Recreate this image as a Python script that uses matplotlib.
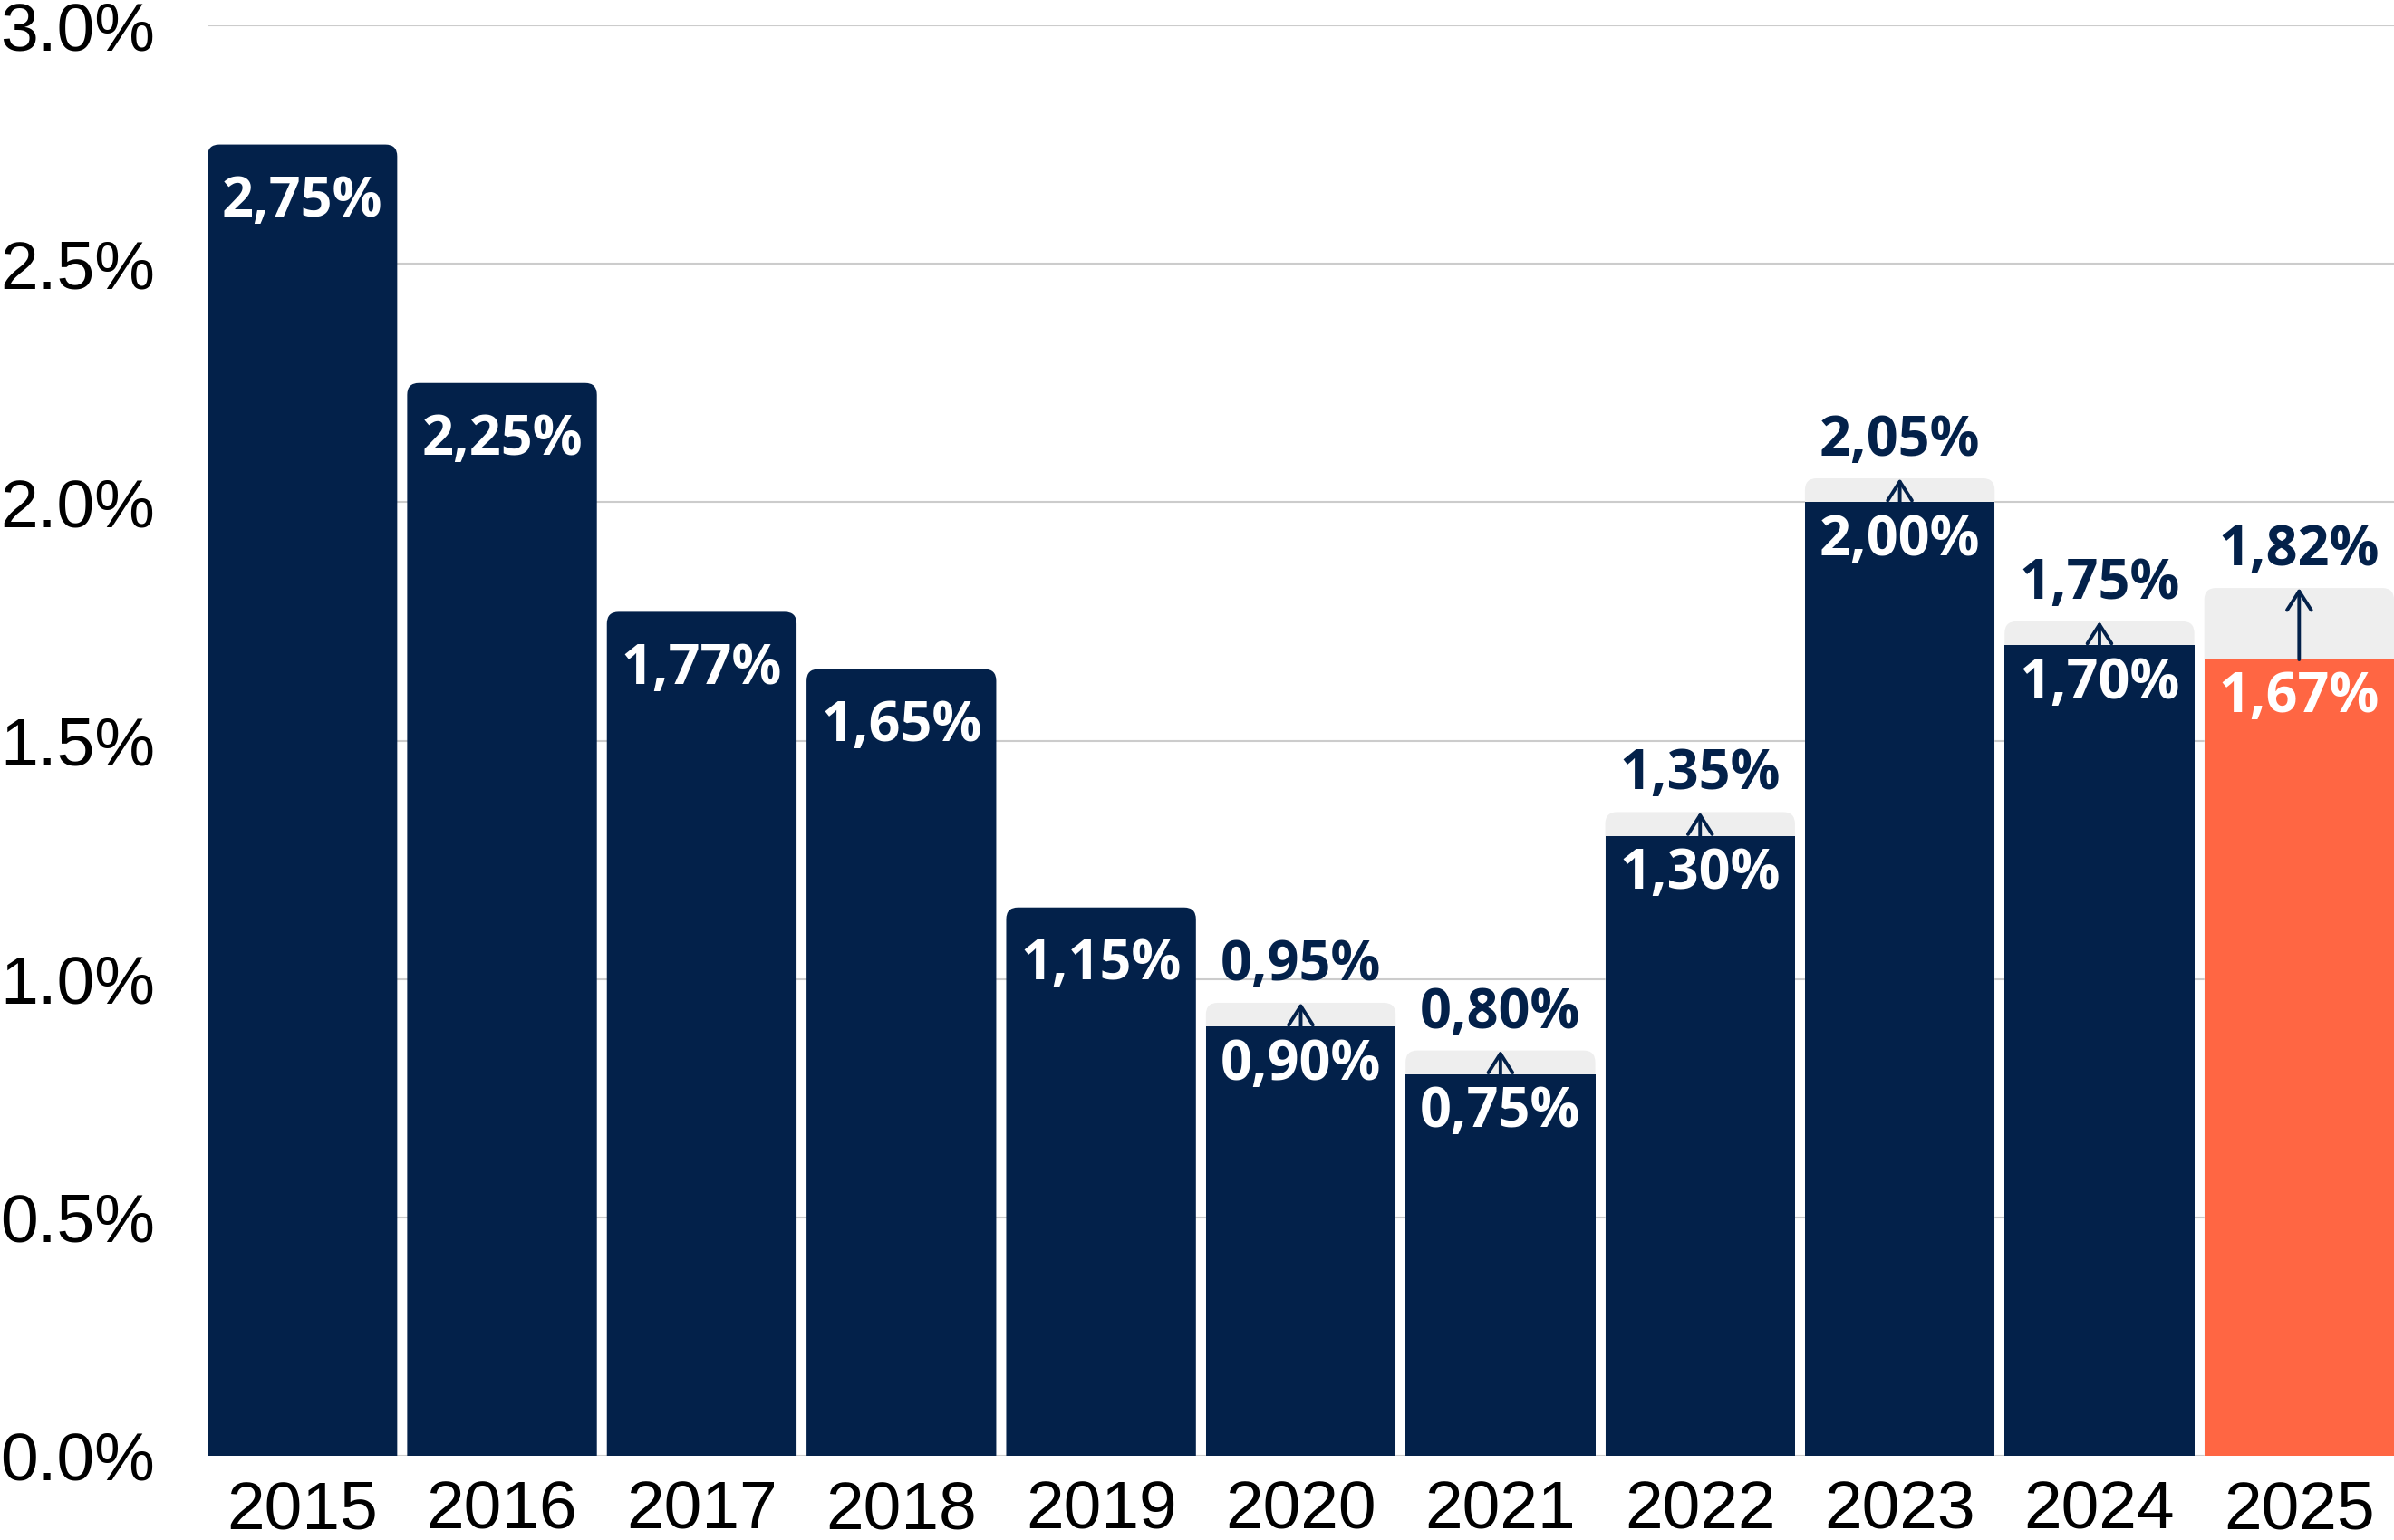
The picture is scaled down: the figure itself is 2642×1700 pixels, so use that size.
import matplotlib.pyplot as plt
from matplotlib.patches import FancyBboxPatch

years = ['2015', '2016', '2017', '2018', '2019', '2020', '2021', '2022', '2023', '2024', '2025']
# высота столбцов, как нарисовано
heights = [2.75, 2.25, 1.77, 1.65, 1.15, 0.90, 0.80, 1.30, 2.00, 1.70, 1.67]
bar_labels = ['2,75%', '2,25%', '1,77%', '1,65%', '1,15%', '0,90%', '0,75%', '1,30%', '2,00%', '1,70%', '1,67%']
# серые "призраки" со стрелкой вверх, None - нет
targets = [None, None, None, None, None, 0.95, 0.85, 1.35, 2.05, 1.75, 1.82]
target_labels = [None, None, None, None, None, '0,95%', '0,80%', '1,35%', '2,05%', '1,75%', '1,82%']
y_ticks = [0.0, 0.5, 1.0, 1.5, 2.0, 2.5, 3.0]

NAVY = '#03214A'
ORANGE = '#FF6643'
GHOST = '#EEEEEE'
GRID = '#CCCCCC'

bar_w = 0.95
radius = 0.059
aspect = 0.4188


def rounded_bar(ax, x0, w, h, color, z):
    # низ уходит под ось и обрезается - скруглен только верх
    ax.add_patch(FancyBboxPatch((x0, -0.2), w, h + 0.2, boxstyle=f'round,pad=0,rounding_size={radius}',
                                mutation_aspect=aspect, fc=color, ec='none', lw=0, zorder=z))


fig = plt.figure(figsize=(26.42, 17), dpi=100)
ax = fig.add_axes([229 / 2642, 93 / 1700, 1 - 229 / 2642, (1607 - 28) / 1700])

bars = ax.bar(range(len(years)), heights, width=bar_w, color=NAVY, zorder=3)
for i, b in enumerate(bars):
    x0, w, h = b.get_x(), b.get_width(), b.get_height()
    color = ORANGE if i == len(years) - 1 else NAVY
    b.set_facecolor(color)
    xc = x0 + w / 2
    t = targets[i]
    if t is None:
        b.set_visible(False)
        rounded_bar(ax, x0, w, h, color, 3)
        off = -57
    else:
        rounded_bar(ax, x0, w, t, GHOST, 2)
        ax.annotate('', xy=(xc, t), xytext=(xc, h),
                    arrowprops=dict(arrowstyle='->,head_length=0.5,head_width=0.32', color=NAVY,
                                    lw=2.8, shrinkA=0, shrinkB=0, mutation_scale=30), zorder=4)
        ax.annotate(target_labels[i], (xc, t), xytext=(0, 18), textcoords='offset points',
                    ha='center', va='baseline', color=NAVY, fontsize=44,
                    fontweight='bold', family='Open Sans', zorder=5)
        off = -42
    ax.annotate(bar_labels[i], (xc, h), xytext=(0, off), textcoords='offset points',
                ha='center', va='baseline', color='white', fontsize=44,
                fontweight='bold', family='Open Sans', zorder=5)

ax.set_xlim(-bar_w / 2, len(years) - 1 + bar_w / 2)
ax.set_ylim(0, 3.0)
ax.set_yticks(y_ticks)
ax.set_yticklabels([f'{v:.1f}%' for v in y_ticks], family='Liberation Sans', fontsize=54)
ax.set_xticks(range(len(years)))
ax.set_xticklabels(years, family='Liberation Sans', fontsize=54)
for label in ax.get_yticklabels():
    label.set_horizontalalignment('left')
ax.tick_params(axis='y', length=0, pad=165)
ax.tick_params(axis='x', length=0, pad=19)
ax.grid(axis='y', color=GRID, lw=1.5, zorder=0)
ax.set_axisbelow(True)
for s in ax.spines.values():
    s.set_visible(False)

fig.savefig('out.png', dpi=100)
